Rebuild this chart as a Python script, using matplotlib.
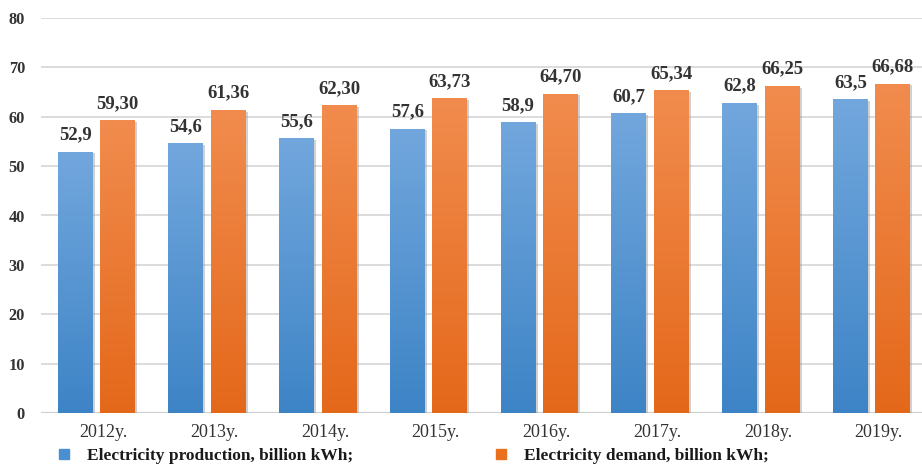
import numpy as np
import matplotlib
matplotlib.use("Agg")
import matplotlib.pyplot as plt
from matplotlib.lines import Line2D
from matplotlib.colors import LinearSegmentedColormap
from matplotlib.transforms import ScaledTranslation
import matplotlib.patheffects as pe

years = ["2012y.", "2013y.", "2014y.", "2015y.", "2016y.", "2017y.", "2018y.", "2019y."]
production = [52.9, 54.6, 55.6, 57.6, 58.9, 60.7, 62.8, 63.5]
demand = [59.30, 61.36, 62.30, 63.73, 64.70, 65.34, 66.25, 66.68]
production_labels = ["52,9", "54,6", "55,6", "57,6", "58,9", "60,7", "62,8", "63,5"]
demand_labels = ["59,30", "61,36", "62,30", "63,73", "64,70", "65,34", "66,25", "66,68"]
yticks = [0, 10, 20, 30, 40, 50, 60, 70, 80]

plt.rcParams["font.family"] = ["Liberation Serif", "DejaVu Serif"]
text_color = "#333333"

fig = plt.figure(figsize=(9.22, 4.65), dpi=100)
ax = fig.add_axes([41 / 922, 52 / 465, 886 / 922, 395 / 465])

x = np.arange(len(years))
width = 0.316
offset = 0.192

blue_top, blue_bottom = "#72a7dd", "#3d84c6"
orange_top, orange_bottom = "#f18c4e", "#e4681a"

shadow = [pe.SimplePatchShadow(offset=(1.5, -1.2), shadow_rgbFace="#999999", alpha=0.45), pe.Normal()]

bars_p = ax.bar(x - offset, production, width, color=blue_bottom, zorder=3, path_effects=shadow)
bars_d = ax.bar(x + offset, demand, width, color=orange_bottom, zorder=3, path_effects=shadow)


def gradient_fill(bars, top, bottom):
    cmap = LinearSegmentedColormap.from_list("g", [bottom, top])
    grad = np.linspace(0, 1, 256).reshape(-1, 1)
    for b in bars:
        x0, y0 = b.get_x(), b.get_y()
        w, h = b.get_width(), b.get_height()
        im = ax.imshow(grad, cmap=cmap, origin="lower", aspect="auto",
                       extent=[x0, x0 + w, y0, y0 + h], zorder=3.5,
                       interpolation="bicubic", vmin=0, vmax=1)
        im.set_clip_path(b)


gradient_fill(bars_p, blue_top, blue_bottom)
gradient_fill(bars_d, orange_top, orange_bottom)

for bars, labels in ((bars_p, production_labels), (bars_d, demand_labels)):
    for b, lab in zip(bars, labels):
        ax.annotate(lab, (b.get_x() + b.get_width() / 2, b.get_height()),
                    xytext=(0, 6), textcoords="offset points", ha="center", va="bottom",
                    fontsize=13.5, fontweight="bold", color=text_color, zorder=5)

ax.set_xlim(-0.5, len(years) - 0.5)
ax.set_ylim(0, 80)
ax.set_yticks(yticks)
ax.set_yticklabels([str(t) for t in yticks], fontsize=11.8, fontweight="bold", color=text_color)
ax.set_xticks(x)
ax.set_xticklabels(years, fontsize=13, color=text_color)
ax.tick_params(axis="both", length=0)
ax.tick_params(axis="y", pad=11.5)
ax.tick_params(axis="x", pad=8)
shift = ScaledTranslation(7 / 100, 0, fig.dpi_scale_trans)
for lbl in ax.get_xticklabels():
    lbl.set_transform(lbl.get_transform() + shift)
for s in ax.spines.values():
    s.set_visible(False)
ax.yaxis.grid(True, color="#d9d9d9", linewidth=1.3, zorder=0)
ax.set_axisbelow(True)
ax.axhline(0, color="#cfcfcf", linewidth=1.6, zorder=2)

h1 = Line2D([], [], linestyle="none", marker="s", markersize=6.5, color="#4a8fd0")
h2 = Line2D([], [], linestyle="none", marker="s", markersize=6.5, color="#e8701f")
leg_kw = dict(frameon=False, prop={"weight": "bold", "size": 12.5}, borderpad=0,
              borderaxespad=0, handlelength=0.6, handletextpad=1.0, loc="center left")
leg1 = fig.legend([h1], ["Electricity production, billion kWh;"],
                  bbox_to_anchor=(59 / 922, 1 - 456 / 465), **leg_kw)
leg2 = fig.legend([h2], ["Electricity demand, billion kWh;"],
                  bbox_to_anchor=(496 / 922, 1 - 456 / 465), **leg_kw)
for leg in (leg1, leg2):
    for t in leg.get_texts():
        t.set_color("#1a1a1a")

fig.savefig("out.png", dpi=100)
